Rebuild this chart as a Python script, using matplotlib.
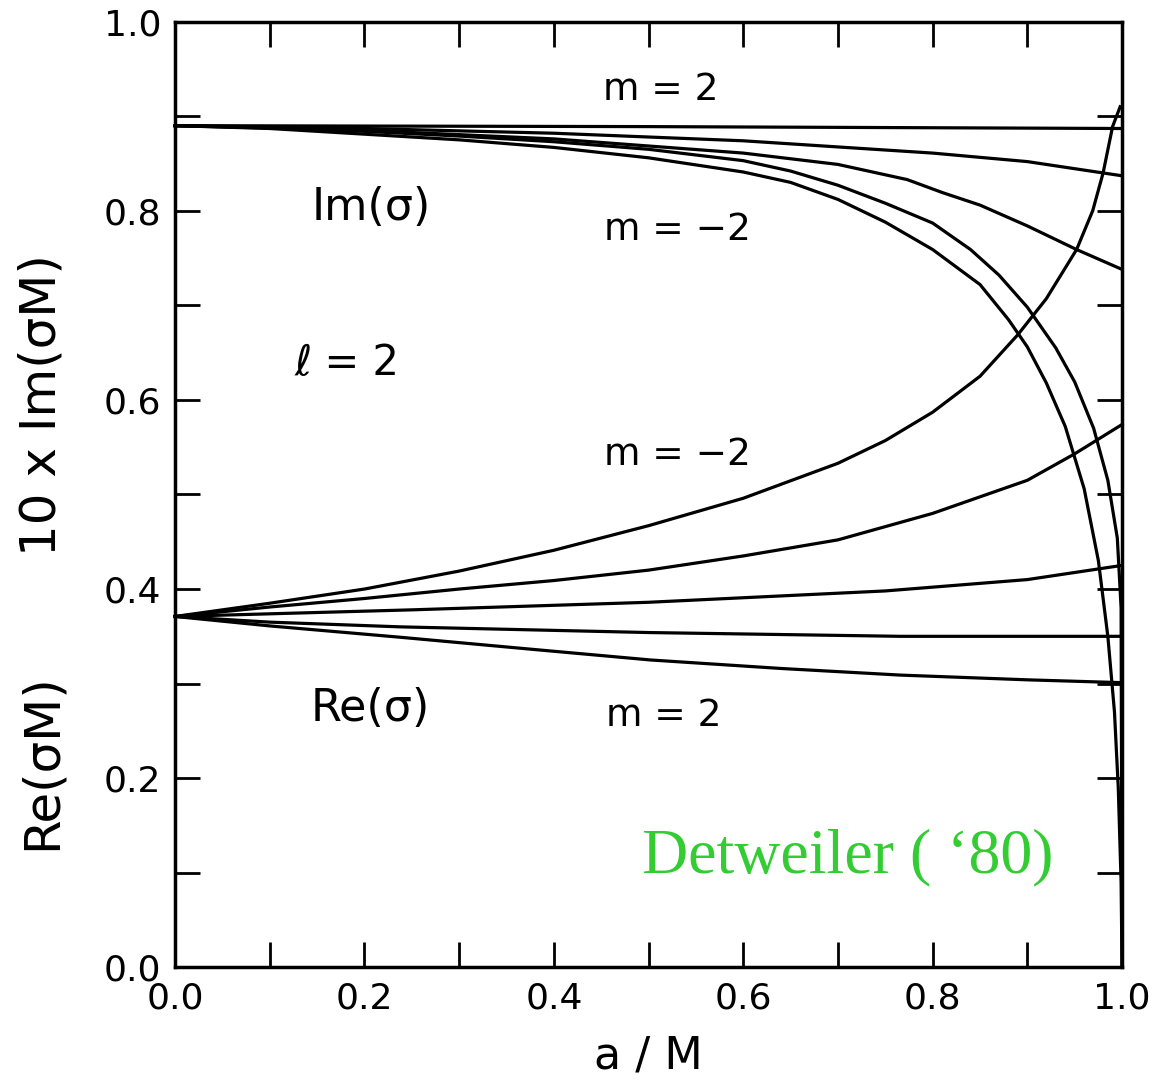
import matplotlib
matplotlib.use('Agg')
from matplotlib import pyplot as plt
from matplotlib.ticker import MultipleLocator, FormatStrFormatter

# Im(sigma) curves, 10 x Im(sigma M)
im_a1 = [0.0, 0.5, 1.0]
im_v1 = [0.890, 0.889, 0.887]

im_a2 = [0.0, 0.2, 0.4, 0.6, 0.8, 0.9, 1.0]
im_v2 = [0.890, 0.887, 0.882, 0.874, 0.861, 0.852, 0.837]

im_a3 = [0.0, 0.2, 0.4, 0.6, 0.7, 0.773, 0.811, 0.85, 0.9, 0.952, 1.0]
im_v3 = [0.890, 0.885, 0.876, 0.861, 0.849, 0.833, 0.819, 0.806, 0.784, 0.759, 0.738]

im_a4 = [0.0, 0.1, 0.2, 0.3, 0.4, 0.5, 0.6, 0.65, 0.7, 0.75, 0.8, 0.84, 0.87, 0.9,
         0.93, 0.95, 0.97, 0.985, 0.995, 0.999, 1.0]
im_v4 = [0.890, 0.888, 0.884, 0.879, 0.873, 0.865, 0.853, 0.842, 0.827, 0.808, 0.787, 0.759, 0.732, 0.698,
         0.655, 0.619, 0.570, 0.515, 0.454, 0.38, 0.0]

im_a5 = [0.0, 0.1, 0.2, 0.3, 0.4, 0.5, 0.6, 0.65, 0.7, 0.75, 0.8, 0.85, 0.88, 0.9, 0.92,
         0.94, 0.96, 0.975, 0.985, 0.992, 0.996, 0.999, 1.0]
im_v5 = [0.890, 0.887, 0.881, 0.875, 0.867, 0.856, 0.841, 0.830, 0.812, 0.788, 0.759, 0.722, 0.685, 0.656, 0.618,
         0.572, 0.506, 0.430, 0.350, 0.27, 0.19, 0.09, 0.0]

# Re(sigma M) curves
re_a1 = [0.0, 0.1, 0.2, 0.3, 0.4, 0.5, 0.6, 0.7, 0.75, 0.8, 0.85, 0.89, 0.92, 0.952, 0.969, 0.98, 0.99, 0.998]
re_v1 = [0.371, 0.385, 0.400, 0.419, 0.441, 0.467, 0.496, 0.533, 0.557, 0.587, 0.625, 0.669, 0.707, 0.759,
         0.800, 0.840, 0.889, 0.910]

re_a2 = [0.0, 0.1, 0.2, 0.3, 0.4, 0.5, 0.6, 0.7, 0.8, 0.9, 0.95, 1.0]
re_v2 = [0.371, 0.381, 0.390, 0.400, 0.409, 0.420, 0.435, 0.452, 0.480, 0.515, 0.543, 0.574]

re_a3 = [0.0, 0.25, 0.5, 0.75, 0.9, 1.0]
re_v3 = [0.371, 0.378, 0.386, 0.398, 0.410, 0.425]

re_a4 = [0.0, 0.1, 0.238, 0.5, 0.766, 1.0]
re_v4 = [0.371, 0.365, 0.360, 0.354, 0.350, 0.350]

re_a5 = [0.0, 0.1, 0.238, 0.38, 0.502, 0.64, 0.766, 0.9, 1.0]
re_v5 = [0.371, 0.361, 0.349, 0.336, 0.325, 0.316, 0.309, 0.304, 0.301]

fig = plt.figure(figsize=(11.52, 10.82), dpi=100)
ax = fig.add_axes([0.152, 0.106, 0.822, 0.874])

for a, v in [(im_a1, im_v1), (im_a2, im_v2), (im_a3, im_v3), (im_a4, im_v4), (im_a5, im_v5),
             (re_a1, re_v1), (re_a2, re_v2), (re_a3, re_v3), (re_a4, re_v4), (re_a5, re_v5)]:
    ax.plot(a, v, color='black', linewidth=2.3, solid_joinstyle='round', clip_on=False)

ax.set_xlim(0, 1)
ax.set_ylim(0, 1)
ax.xaxis.set_major_locator(MultipleLocator(0.2))
ax.xaxis.set_minor_locator(MultipleLocator(0.1))
ax.yaxis.set_major_locator(MultipleLocator(0.2))
ax.yaxis.set_minor_locator(MultipleLocator(0.1))
ax.xaxis.set_major_formatter(FormatStrFormatter('%.1f'))
ax.yaxis.set_major_formatter(FormatStrFormatter('%.1f'))
ax.tick_params(which='both', direction='in', top=True, right=True, length=18, width=2,
               labelsize=26, pad=10, colors='black')
for s in ax.spines.values():
    s.set_linewidth(2.5)

ax.set_xlabel('a / M', fontsize=32, labelpad=14)
fig.text(0.036, 0.296, 'Re(σM)', fontsize=36, rotation=90, ha='center', va='center')
fig.text(0.036, 0.626, '10 x Im(σM)', fontsize=36, rotation=90, ha='center', va='center')

# annotations
ax.text(0.513, 0.928, 'm = 2', fontsize=27, ha='center', va='center')
ax.text(0.207, 0.803, 'Im(σ)', fontsize=32, ha='center', va='center')
ax.text(0.531, 0.780, 'm = −2', fontsize=27, ha='center', va='center')
ax.text(0.181, 0.639, 'ℓ = 2', fontsize=30, ha='center', va='center')
ax.text(0.531, 0.542, 'm = −2', fontsize=27, ha='center', va='center')
ax.text(0.206, 0.274, 'Re(σ)', fontsize=32, ha='center', va='center')
ax.text(0.516, 0.266, 'm = 2', fontsize=27, ha='center', va='center')
ax.text(0.710, 0.116, 'Detweiler ( \u201880)', fontsize=46, ha='center', va='center',
        color='#33cc33', family=['Liberation Serif', 'DejaVu Serif'])

plt.savefig('out.png', dpi=100)
